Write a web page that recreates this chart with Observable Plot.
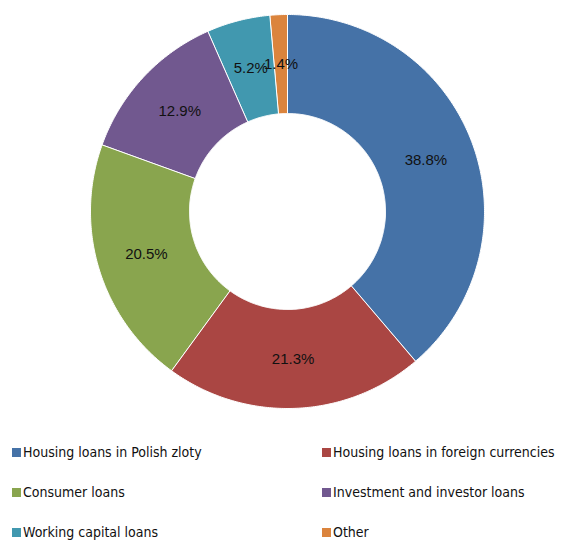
<!DOCTYPE html>
<html><head><meta charset="utf-8">
<script src="https://cdn.jsdelivr.net/npm/d3@7"></script>
<script src="https://cdn.jsdelivr.net/npm/@observablehq/plot@0.6"></script>
<style>
body{margin:0;background:#fff;overflow:hidden;}
#legend{display:grid;grid-template-columns:310px 252px;grid-auto-rows:40px;margin-top:12px;font-family:"DejaVu Sans Condensed","DejaVu Sans",sans-serif;font-size:14px;color:#111;}
.item{display:flex;align-items:center;padding-left:12px;white-space:nowrap;}
.sw{width:9px;height:9px;margin-right:2px;flex:none;}
</style></head>
<body><div id="chart"></div><div id="legend"></div>
<script>
const categories = ["Housing loans in Polish zloty","Housing loans in foreign currencies","Consumer loans","Investment and investor loans","Working capital loans","Other"];
const shares = [38.8, 21.3, 20.5, 12.9, 5.2, 1.4];
const labels = ["38.8%","21.3%","20.5%","12.9%","5.2%","1.4%"];
const colors = ["#4572A7","#AA4643","#89A54E","#71588F","#4198AF","#DB843D"];

const W = 562, H = 420, cx = 287, cy = 211, R = 197, r0 = 98;
const data = categories.map((c,i)=>({category:c, value:shares[i], label:labels[i]}));
const arcs = d3.pie().sort(null).value(d=>d.value)(data);

function ringPolygon(a0, a1){
  const n = Math.max(2, Math.ceil((a1-a0)/0.01));
  const outer = [], inner = [];
  for(let k=0;k<=n;k++){
    const a = a0 + (a1-a0)*k/n;
    outer.push([cx + R*Math.sin(a), cy - R*Math.cos(a)]);
    inner.push([cx + r0*Math.sin(a), cy - r0*Math.cos(a)]);
  }
  const ring = outer.concat(inner.reverse());
  ring.push(ring[0]);
  return ring;
}
const features = arcs.map(a=>({type:"Feature", properties:{category:a.data.category}, geometry:{type:"Polygon", coordinates:[ringPolygon(a.startAngle,a.endAngle)]}}));
const labelPts = arcs.map(a=>{const m=(a.startAngle+a.endAngle)/2, rm=(R+r0)/2; return {x:cx+rm*Math.sin(m), y:cy-rm*Math.cos(m), label:a.data.label};});

const plot = Plot.plot({
  width: W, height: H, margin: 0,
  projection: {stream: d3.geoIdentity().stream},
  x: {domain:[0,W], range:[0,W], axis:null},
  y: {domain:[0,H], range:[0,H], axis:null},
  color: {domain: categories, range: colors},
  style: {fontFamily:"Liberation Sans, sans-serif"},
  marks: [
    Plot.geo(features, {fill: d=>d.properties.category, stroke:"white", strokeWidth:1}),
    Plot.text(labelPts, {x:"x", y:"y", text:"label", fontSize:15, fill:"#111"})
  ]
});
document.getElementById("chart").appendChild(plot);

const leg = d3.select("#legend");
categories.forEach((c,i)=>{
  const it = leg.append("div").attr("class","item");
  it.append("div").attr("class","sw").style("background",colors[i]);
  it.append("span").text(c);
});
</script></body></html>
